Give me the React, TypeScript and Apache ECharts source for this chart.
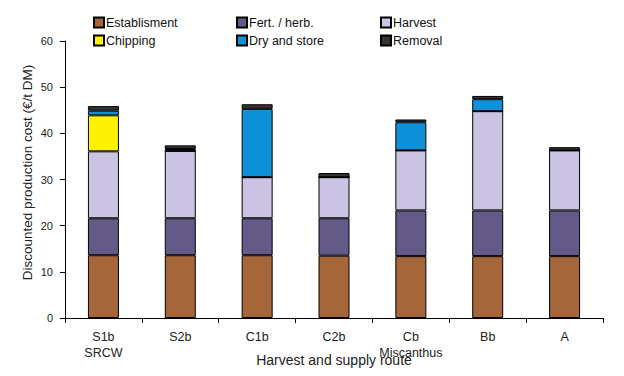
import React, { useEffect, useRef } from "react";
import * as echarts from "echarts";

const categories = ["S1b\nSRCW", "S2b", "C1b", "C2b", "Cb\nMiscanthus", "Bb", "A"];
const establishment = [13.6, 13.6, 13.6, 13.5, 13.4, 13.4, 13.4];
const fertHerb = [8.0, 8.0, 8.0, 8.1, 9.9, 9.9, 9.9];
const harvest = [14.5, 14.6, 8.9, 8.9, 13.0, 21.5, 13.0];
const chipping = [7.8, 0, 0, 0, 0, 0, 0];
const dryStore = [1.0, 0.4, 14.8, 0, 6.1, 2.6, 0];
const removal = [1.0, 0.8, 1.0, 0.9, 0.6, 0.7, 0.7];
const yTicks = { min: 0, max: 60, interval: 10 };

const seriesDefs = [
  { name: "Establisment", data: establishment, color: "#a5663a" },
  { name: "Fert. / herb.", data: fertHerb, color: "#635a88" },
  { name: "Harvest", data: harvest, color: "#cbc3e3" },
  { name: "Chipping", data: chipping, color: "#fff200" },
  { name: "Dry and store", data: dryStore, color: "#0f91d9" },
  { name: "Removal", data: removal, color: "#333333" },
];

export default function App() {
  const ref = useRef<HTMLDivElement>(null);
  useEffect(() => {
    if (!ref.current) return;
    const chart = echarts.init(ref.current, null, { renderer: "svg" });
    const font = "Liberation Sans, Arial, sans-serif";
    const legendBase = {
      orient: "vertical" as const,
      top: 11,
      itemWidth: 10,
      itemHeight: 10,
      itemGap: 5,
      icon: "rect",
      textStyle: { fontFamily: font, fontSize: 12.5, color: "#111", padding: [0, 0, 0, -3] },
    };
    chart.setOption({
      animation: false,
      backgroundColor: "#fff",
      textStyle: { fontFamily: font },
      legend: [
        { ...legendBase, left: 88, data: ["Establisment", "Chipping"] },
        { ...legendBase, left: 231, data: ["Fert. / herb.", "Dry and store"] },
        { ...legendBase, left: 375, data: ["Harvest", "Removal"] },
      ],
      grid: { left: 65, right: 21, top: 41, bottom: 58, outerBoundsMode: "none", containLabel: false },
      xAxis: {
        type: "category",
        data: categories,
        name: "Harvest and supply route",
        nameLocation: "middle",
        nameGap: 35,
        nameMoveOverlap: false,
        nameTextStyle: { fontFamily: font, fontSize: 14, color: "#222" },
        axisLine: { lineStyle: { color: "#000", width: 1 } },
        axisTick: { show: true, length: 5, interval: 0, alignWithLabel: false, lineStyle: { color: "#000" } },
        axisLabel: { interval: 0, hideOverlap: false, fontFamily: font, fontSize: 12.5, color: "#222", margin: 11, lineHeight: 16 },
      },
      yAxis: {
        type: "value",
        min: yTicks.min,
        max: yTicks.max,
        interval: yTicks.interval,
        name: "Discounted production cost (€/t DM)",
        nameLocation: "middle",
        nameGap: 31,
        nameMoveOverlap: false,
        nameTextStyle: { fontFamily: font, fontSize: 13.5, color: "#222", padding: [0, 0, 0, 14] },
        axisLine: { show: true, lineStyle: { color: "#000", width: 1 } },
        axisTick: { show: true, length: 5, lineStyle: { color: "#000" } },
        axisLabel: { fontFamily: font, fontSize: 11, color: "#222", margin: 12 },
        splitLine: { show: false },
      },
      series: seriesDefs.map((s) => ({
        name: s.name,
        type: "bar",
        stack: "total",
        barWidth: 31,
        data: s.data,
        itemStyle: { color: s.color, borderColor: "#000", borderWidth: 1 },
      })),
    });
    return () => chart.dispose();
  }, []);
  return <div ref={ref} style={{ width: 624, height: 376, position: "absolute", left: 0, top: 0 }} />;
}
